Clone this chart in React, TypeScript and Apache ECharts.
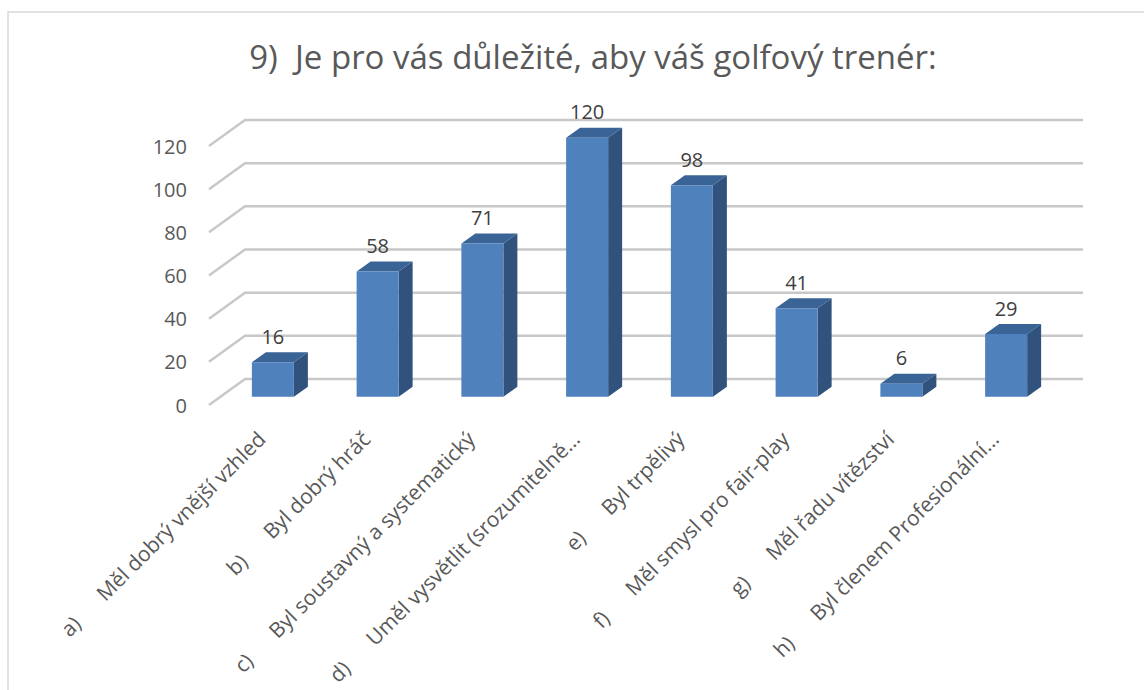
import React, { useEffect, useRef } from "react";
import * as echarts from "echarts";

const titleText = "9)  Je pro vás důležité, aby váš golfový trenér:";
const categories = [
  "a)      Měl dobrý vnější vzhled",
  "b)      Byl dobrý hráč",
  "c)      Byl soustavný a systematický",
  "d)      Uměl vysvětlit (srozumitelně…",
  "e)      Byl trpělivý",
  "f)      Měl smysl pro fair-play",
  "g)      Měl řadu vítězství",
  "h)      Byl členem Profesionální…",
];
const values = [16, 58, 71, 120, 98, 41, 6, 29];
const yTicks = [0, 20, 40, 60, 80, 100, 120];

const FONT = "'Open Sans', 'DejaVu Sans', sans-serif";
const WALL_DX = 36;
const WALL_DY = -26;
const BAR_OFF_X = 11.5;
const BAR_OFF_Y = -8.3;
const BAR_W = 42;
const BAR_DX = 14;
const BAR_DY = -10;

export default function App() {
  const ref = useRef<HTMLDivElement>(null);
  useEffect(() => {
    if (!ref.current) return;
    const chart = echarts.init(ref.current, undefined, { renderer: "svg" });
    chart.setOption({
      animation: false,
      backgroundColor: "#ffffff",
      title: {
        text: titleText,
        left: 588,
        top: 35,
        textAlign: "center",
        textStyle: { fontFamily: FONT, fontSize: 33, fontWeight: "normal", color: "#595959" },
      },
      graphic: [
        {
          type: "rect",
          shape: { x: 8, y: 12, width: 1150, height: 700 },
          style: { fill: "none", stroke: "#d9d9d9", lineWidth: 1.5 },
          silent: true,
        },
      ],
      grid: { left: 209, width: 838, top: 146, bottom: 285, outerBoundsMode: "none", containLabel: false },
      xAxis: {
        type: "category",
        data: categories,
        axisLine: { show: false },
        axisTick: { show: false },
        axisLabel: {
          interval: 0,
          rotate: 45,
          margin: 30,
          fontFamily: FONT,
          fontSize: 21,
          color: "#595959",
        },
      },
      yAxis: {
        type: "value",
        min: 0,
        max: 120,
        interval: 20,
        axisLine: { show: false },
        axisTick: { show: false },
        splitLine: { show: false },
        axisLabel: { margin: 22, fontFamily: FONT, fontSize: 20, color: "#595959" },
      },
      series: [
        {
          type: "custom",
          silent: true,
          z: 1,
          data: yTicks.map((v) => [0, v]),
          encode: { x: 0, y: 1 },
          renderItem: (params: any, api: any) => {
            const cs = params.coordSys;
            const y = api.coord([0, api.value(1)])[1];
            const x0 = cs.x;
            return {
              type: "polyline",
              shape: {
                points: [
                  [x0, y],
                  [x0 + WALL_DX, y + WALL_DY],
                  [x0 + cs.width + WALL_DX, y + WALL_DY],
                ],
              },
              style: { fill: "none", stroke: "#c8c8c8", lineWidth: 2.5 },
            };
          },
        },
        {
          type: "custom",
          z: 5,
          data: values.map((v, i) => [i, v]),
          encode: { x: 0, y: 1 },
          renderItem: (params: any, api: any) => {
            const i = api.value(0);
            const v = api.value(1);
            const pTop = api.coord([i, v]);
            const pBase = api.coord([i, 0]);
            const cx = pTop[0] + BAR_OFF_X;
            const top = pTop[1] + BAR_OFF_Y;
            const bottom = pBase[1] + BAR_OFF_Y;
            const fl = cx - BAR_W / 2;
            const fr = cx + BAR_W / 2;
            return {
              type: "group",
              children: [
                {
                  type: "polygon",
                  shape: {
                    points: [
                      [fr, top],
                      [fr + BAR_DX, top + BAR_DY],
                      [fr + BAR_DX, bottom + BAR_DY],
                      [fr, bottom],
                    ],
                  },
                  style: { fill: "#30527c" },
                },
                {
                  type: "polygon",
                  shape: {
                    points: [
                      [fl, top],
                      [fl + BAR_DX, top + BAR_DY],
                      [fr + BAR_DX, top + BAR_DY],
                      [fr, top],
                    ],
                  },
                  style: { fill: "#3a6396" },
                },
                {
                  type: "rect",
                  shape: { x: fl, y: top, width: BAR_W, height: bottom - top },
                  style: { fill: "#4f81bd" },
                },
                {
                  type: "text",
                  style: {
                    text: String(v),
                    x: cx,
                    y: top - 26,
                    textAlign: "center",
                    textVerticalAlign: "middle",
                    fontFamily: FONT,
                    fontSize: 20,
                    fill: "#404040",
                  },
                },
              ],
            };
          },
        },
      ],
    });
    return () => chart.dispose();
  }, []);
  return (
    <div
      ref={ref}
      style={{ position: "absolute", left: 0, top: 0, width: 1144, height: 690 }}
    />
  );
}
